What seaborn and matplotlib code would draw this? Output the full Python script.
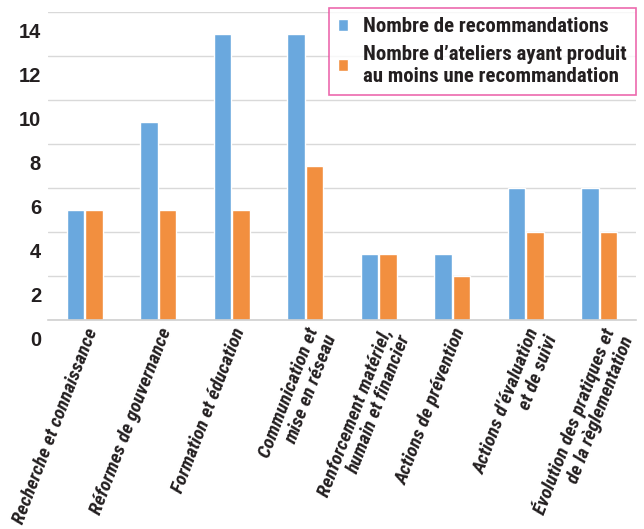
import matplotlib
matplotlib.use("Agg")
import matplotlib.pyplot as plt
import matplotlib.transforms as mtransforms
import seaborn as sns
import pandas as pd

categories = [
    "Recherche et connaissance",
    "Réformes de gouvernance",
    "Formation et éducation",
    "Communication et\nmise en réseau",
    "Renforcement matériel,\nhumain et financier",
    "Actions de prévention",
    "Actions d’évaluation\net de suivi",
    "Évolution des pratiques et\nde la règlementation",
]
series_names = [
    "Nombre de recommandations",
    "Nombre d’ateliers ayant produit\nau moins une recommandation",
]
recommandations = [5, 9, 13, 13, 3, 3, 6, 6]
ateliers = [5, 5, 5, 7, 3, 2, 4, 4]
y_ticks = [0, 2, 4, 6, 8, 10, 12, 14]
colors = ["#6aa8de", "#f28f3f"]

df = pd.DataFrame({
    "cat": categories * 2,
    "val": recommandations + ateliers,
    "serie": [series_names[0]] * len(categories) + [series_names[1]] * len(categories),
})

sns.set_style("white")
narrow = ["Roboto Condensed", "Liberation Sans Narrow", "Roboto", "DejaVu Sans"]
plt.rcParams["font.family"] = ["Liberation Sans", "DejaVu Sans"]

fig = plt.figure(figsize=(6.44, 5.29), dpi=100)
ax = fig.add_axes([48 / 644, 1 - 320 / 529, (636 - 48) / 644, (320 - 12) / 529])

sns.barplot(data=df, x="cat", y="val", hue="serie", palette=colors,
            width=0.5, gap=0.06, ax=ax, order=categories, hue_order=series_names,
            saturation=1, errorbar=None)

ax.set_xlim(-0.5, len(categories) - 0.5)
ax.set_ylim(0, 14)
ax.set_yticks(y_ticks)
ax.set_yticklabels([str(t) for t in y_ticks], fontsize=14.5, fontweight="bold", color="#231f20")
ax.yaxis.grid(True, color="#d9d9d9", linewidth=1)
ax.set_axisbelow(True)
for s in ["left", "right", "top"]:
    ax.spines[s].set_visible(False)
ax.spines["bottom"].set_color("#d0d0d0")
ax.spines["bottom"].set_linewidth(1.2)
ax.tick_params(axis="both", length=0)
ax.tick_params(axis="y", pad=5)
ax.set_xlabel("")
ax.set_ylabel("")

offset = mtransforms.ScaledTranslation(0, -18 / 100, fig.dpi_scale_trans)
for lab in ax.get_yticklabels():
    lab.set_transform(lab.get_transform() + offset)

ax.set_xticks(range(len(categories)))
ax.set_xticklabels(categories, rotation=69, ha="right", va="top",
                   rotation_mode="anchor", family=narrow, fontweight="bold",
                   fontstyle="italic", fontsize=14, color="#231f20",
                   multialignment="right", linespacing=1.1)
ax.tick_params(axis="x", pad=4)

handles, labels = ax.get_legend_handles_labels()
if ax.get_legend() is not None:
    ax.get_legend().remove()
leg = fig.legend(handles, labels, loc="upper right",
                 bbox_to_anchor=(636 / 644, 1 - 8 / 529),
                 prop={"family": narrow, "weight": "bold", "size": 15},
                 frameon=True, fancybox=False, handlelength=0.5, handleheight=0.5,
                 handletextpad=0.7, borderpad=0.45, labelspacing=0.4,
                 borderaxespad=0)
leg.get_frame().set_edgecolor("#e8449a")
leg.get_frame().set_linewidth(1.2)
for t in leg.get_texts():
    t.set_color("#231f20")

fig.savefig("out.png", dpi=100, facecolor="white")
